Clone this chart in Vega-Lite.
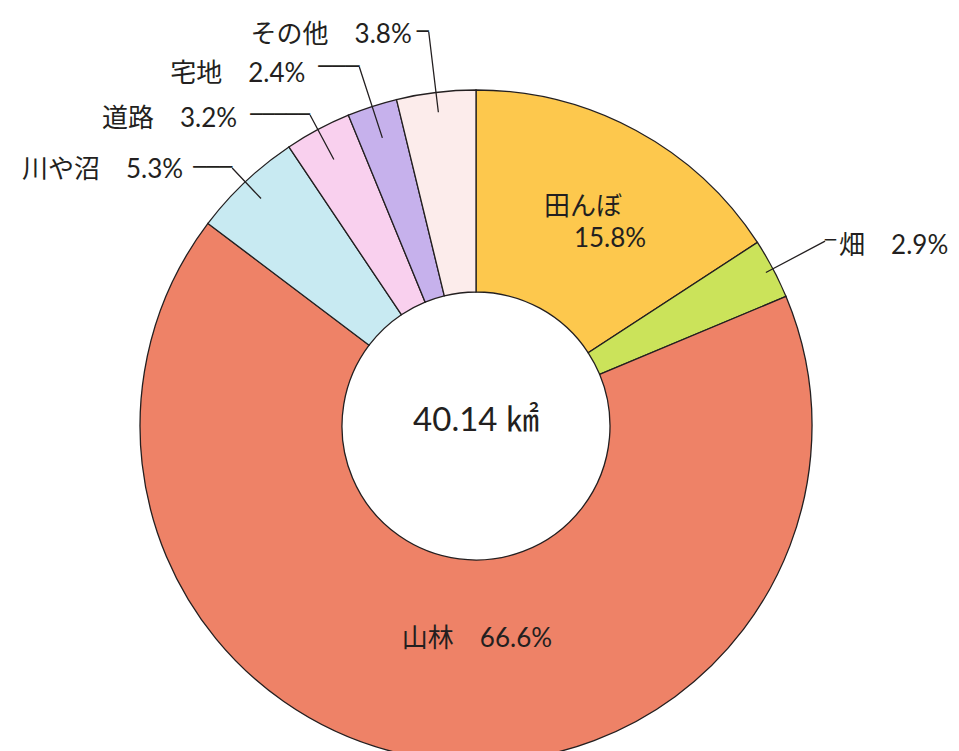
{
  "$schema": "https://vega.github.io/schema/vega-lite/v6.json",
  "width": 952,
  "height": 650,
  "autosize": {"type": "none"},
  "padding": {"left": 0, "top": 101, "right": 7, "bottom": 0},
  "background": "white",
  "config": {"view": {"stroke": null}, "text": {"font": "Lato, 'Noto Sans CJK JP'", "color": "#231f20"}},
  "data": {
    "values": [
      {"category": "田んぼ", "percent": 15.8, "order": 1, "label": "15.8%"},
      {"category": "畑", "percent": 2.9, "order": 2, "label": "畑　2.9%"},
      {"category": "山林", "percent": 66.6, "order": 3, "label": "山林　66.6%"},
      {"category": "川や沼", "percent": 5.3, "order": 4, "label": "川や沼　5.3%"},
      {"category": "道路", "percent": 3.2, "order": 5, "label": "道路　3.2%"},
      {"category": "宅地", "percent": 2.4, "order": 6, "label": "宅地　2.4%"},
      {"category": "その他", "percent": 3.8, "order": 7, "label": "その他　3.8%"}
    ]
  },
  "layer": [
    {
      "encoding": {
        "theta": {"field": "percent", "type": "quantitative", "stack": true},
        "order": {"field": "order", "type": "quantitative"}
      },
      "layer": [
        {
          "mark": {"type": "arc", "outerRadius": 336, "innerRadius": 134, "stroke": "#231f20", "strokeWidth": 1.3},
          "encoding": {
            "color": {
              "field": "category", "type": "nominal", "legend": null,
              "scale": {
                "domain": ["田んぼ", "畑", "山林", "川や沼", "道路", "宅地", "その他"],
                "range": ["#FDC84D", "#CBE35A", "#EE8267", "#C8EAF2", "#F9D0EE", "#C6B1EC", "#FCECEB"]
              }
            }
          }
        },
        {
          "mark": {"type": "arc", "innerRadius": 328, "outerRadius": 395, "padAngle": 3, "fillOpacity": 0, "stroke": "#231f20", "strokeWidth": 1.3},
          "encoding": {"strokeOpacity": {"condition": {"test": "datum.category === '畑'", "value": 1}, "value": 0}}
        },
        {
          "mark": {"type": "arc", "innerRadius": 313, "outerRadius": 355, "padAngle": 3, "fillOpacity": 0, "stroke": "#231f20", "strokeWidth": 1.3},
          "encoding": {"strokeOpacity": {"condition": {"test": "datum.category === '川や沼'", "value": 1}, "value": 0}}
        },
        {
          "mark": {"type": "arc", "innerRadius": 302, "outerRadius": 352.5, "padAngle": 3, "fillOpacity": 0, "stroke": "#231f20", "strokeWidth": 1.3},
          "encoding": {"strokeOpacity": {"condition": {"test": "datum.category === '道路'", "value": 1}, "value": 0}}
        },
        {
          "mark": {"type": "arc", "innerRadius": 303, "outerRadius": 377.5, "padAngle": 3, "fillOpacity": 0, "stroke": "#231f20", "strokeWidth": 1.3},
          "encoding": {"strokeOpacity": {"condition": {"test": "datum.category === '宅地'", "value": 1}, "value": 0}}
        },
        {
          "mark": {"type": "arc", "innerRadius": 316, "outerRadius": 396.8, "padAngle": 3, "fillOpacity": 0, "stroke": "#231f20", "strokeWidth": 1.3},
          "encoding": {"strokeOpacity": {"condition": {"test": "datum.category === 'その他'", "value": 1}, "value": 0}}
        },
        {
          "mark": {"type": "text", "radius": 395, "text": "─", "font": "DejaVu Sans Mono", "fontSize": 18.3, "align": "left", "baseline": "middle"},
          "encoding": {"opacity": {"condition": {"test": "datum.category === '畑'", "value": 1}, "value": 0}}
        },
        {
          "mark": {"type": "text", "radius": 355, "text": "───", "font": "DejaVu Sans Mono", "fontSize": 21.6, "align": "right", "baseline": "middle"},
          "encoding": {"opacity": {"condition": {"test": "datum.category === '川や沼'", "value": 1}, "value": 0}}
        },
        {
          "mark": {"type": "text", "radius": 352.5, "text": "─────", "font": "DejaVu Sans Mono", "fontSize": 19.9, "align": "right", "baseline": "middle"},
          "encoding": {"opacity": {"condition": {"test": "datum.category === '道路'", "value": 1}, "value": 0}}
        },
        {
          "mark": {"type": "text", "radius": 377.5, "text": "───", "font": "DejaVu Sans Mono", "fontSize": 22.7, "align": "right", "baseline": "middle"},
          "encoding": {"opacity": {"condition": {"test": "datum.category === '宅地'", "value": 1}, "value": 0}}
        },
        {
          "mark": {"type": "text", "radius": 396.8, "text": "─", "font": "DejaVu Sans Mono", "fontSize": 20, "align": "right", "baseline": "middle"},
          "encoding": {"opacity": {"condition": {"test": "datum.category === 'その他'", "value": 1}, "value": 0}}
        },
        {
          "mark": {"type": "text", "radius": 395, "dx": 14, "dy": 5, "align": "left", "baseline": "middle", "fontSize": 26},
          "encoding": {"text": {"field": "label"}, "opacity": {"condition": {"test": "datum.category === '畑'", "value": 1}, "value": 0}}
        },
        {
          "mark": {"type": "text", "radius": 355, "dx": -49, "dy": 2, "align": "right", "baseline": "middle", "fontSize": 26},
          "encoding": {"text": {"field": "label"}, "opacity": {"condition": {"test": "datum.category === '川や沼'", "value": 1}, "value": 0}}
        },
        {
          "mark": {"type": "text", "radius": 352.5, "dx": -73, "dy": 4, "align": "right", "baseline": "middle", "fontSize": 26},
          "encoding": {"text": {"field": "label"}, "opacity": {"condition": {"test": "datum.category === '道路'", "value": 1}, "value": 0}}
        },
        {
          "mark": {"type": "text", "radius": 377.5, "dx": -54, "dy": 7, "align": "right", "baseline": "middle", "fontSize": 26},
          "encoding": {"text": {"field": "label"}, "opacity": {"condition": {"test": "datum.category === '宅地'", "value": 1}, "value": 0}}
        },
        {
          "mark": {"type": "text", "radius": 396.8, "dx": -17, "dy": 3, "align": "right", "baseline": "middle", "fontSize": 26},
          "encoding": {"text": {"field": "label"}, "opacity": {"condition": {"test": "datum.category === 'その他'", "value": 1}, "value": 0}}
        },
        {
          "mark": {"type": "text", "radius": 236, "dx": -5.4, "dy": -11, "align": "center", "baseline": "middle", "fontSize": 26},
          "encoding": {"text": {"field": "category"}, "opacity": {"condition": {"test": "datum.category === '田んぼ'", "value": 1}, "value": 0}}
        },
        {
          "mark": {"type": "text", "radius": 236, "dx": 21.6, "dy": 21, "align": "center", "baseline": "middle", "fontSize": 26},
          "encoding": {"text": {"field": "label"}, "opacity": {"condition": {"test": "datum.category === '田んぼ'", "value": 1}, "value": 0}}
        },
        {
          "mark": {"type": "text", "radius": 212.7, "dx": 27.6, "dy": 2, "align": "center", "baseline": "middle", "fontSize": 26},
          "encoding": {"text": {"field": "label"}, "opacity": {"condition": {"test": "datum.category === '山林'", "value": 1}, "value": 0}}
        }
      ]
    },
    {
      "data": {"values": [{"total": "40.14 ㎢"}]},
      "mark": {"type": "text", "fontSize": 33, "dy": -5, "align": "center", "baseline": "middle"},
      "encoding": {"text": {"field": "total", "type": "nominal"}}
    }
  ]
}
